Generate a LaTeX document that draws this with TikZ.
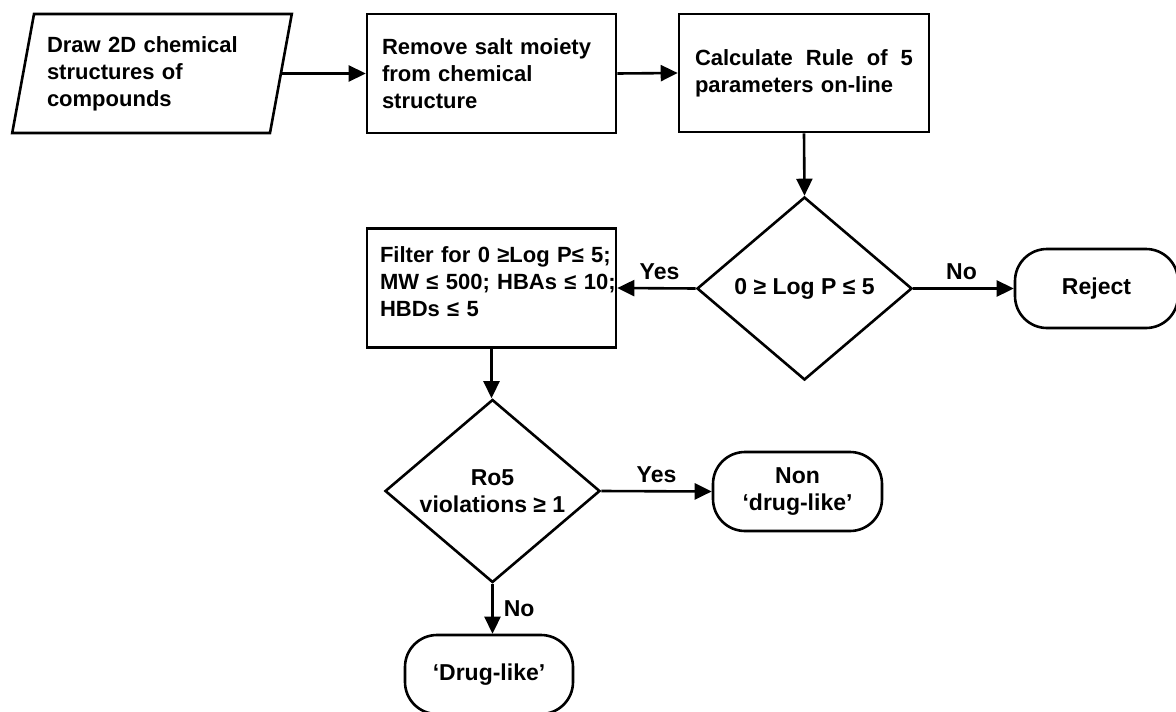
\documentclass[tikz,border=0pt]{standalone}
\usepackage{fontspec}
\setmainfont{Liberation Sans}
\usetikzlibrary{shapes.geometric,arrows.meta}
\begin{document}
\begin{tikzpicture}[x=1pt,y=-1pt,
  every node/.style={font=\fontsize{23}{27}\selectfont\bfseries},
  boxfont/.style={font=\fontsize{22}{27}\selectfont\bfseries},
  lw/.style={line width=2.6pt},
  box/.style={lw,draw,boxfont,rectangle,minimum width=249pt,minimum height=119pt,inner sep=0pt,align=left},
  para/.style={lw,draw,boxfont,shape=trapezium,trapezium left angle=75.4,trapezium right angle=104.6,
    trapezium stretches=true,minimum width=280pt,minimum height=119pt,inner sep=0pt,align=left},
  dia/.style={lw,draw,shape=diamond,aspect=1.175,minimum width=215pt,minimum height=183pt,inner sep=0pt,align=center},
  term/.style={lw,draw,rectangle,rounded corners=32pt,minimum height=79pt,inner sep=0pt,align=center},
  arr/.style={lw,-{Triangle[length=17pt,width=16pt]}},
  lab/.style={inner sep=7pt}
]
\useasboundingbox (0,0) rectangle (1176,712);

\node[para,text width=210pt] (p1) at (152,73.5) {Draw 2D chemical\\structures of\\compounds};
\node[box,text width=219pt] (b2) at (491.5,73.5) {Remove salt moiety\\from chemical\\structure};
\node[box,text width=218pt,minimum width=250pt,minimum height=118pt] (b3) at (804,73) {\hbox to 218pt{Calculate\hfill Rule\hfill of\hfill 5}\\parameters on-line};
\node[dia] (d1) at (804.5,288.5) {0 ≥ Log P ≤ 5};
\node[box,text width=223pt] (b4) at (491.5,288) {\mbox{Filter for 0 ≥Log P≤ 5;}\\\mbox{MW ≤ 500; HBAs ≤ 10;}\\\mbox{HBDs ≤ 5}\rule[-12pt]{0pt}{1pt}};
\node[term,minimum width=163pt] (t1) at (1096.5,288.5) {Reject};
\node[dia] (d2) at (492.5,491) {Ro5\\violations ≥ 1};
\node[term,minimum width=169pt] (t2) at (797.5,491.5) {Non\\‘drug-like’};
\node[term,minimum width=168pt] (t3) at (489,674.5) {‘Drug-like’};

\draw[arr] (p1.east) -- (b2.west);
\draw[arr] (b2.east) -- (b3.west);
\draw[arr] (b3.south) -- (d1.north);
\draw[arr] (d1.west) -- node[above,lab,xshift=3pt] {Yes} (b4.east);
\draw[arr] (d1.east) -- node[above,lab,xshift=-2pt] {No} (t1.west);
\draw[arr] (b4.south) -- (b4.south |- d2.north);
\draw[arr] (d2.east) -- node[above,lab] {Yes} (t2.west);
\draw[arr] (d2.south) -- node[right,inner sep=10pt] {No} (d2.south |- t3.north);
\end{tikzpicture}
\end{document}
